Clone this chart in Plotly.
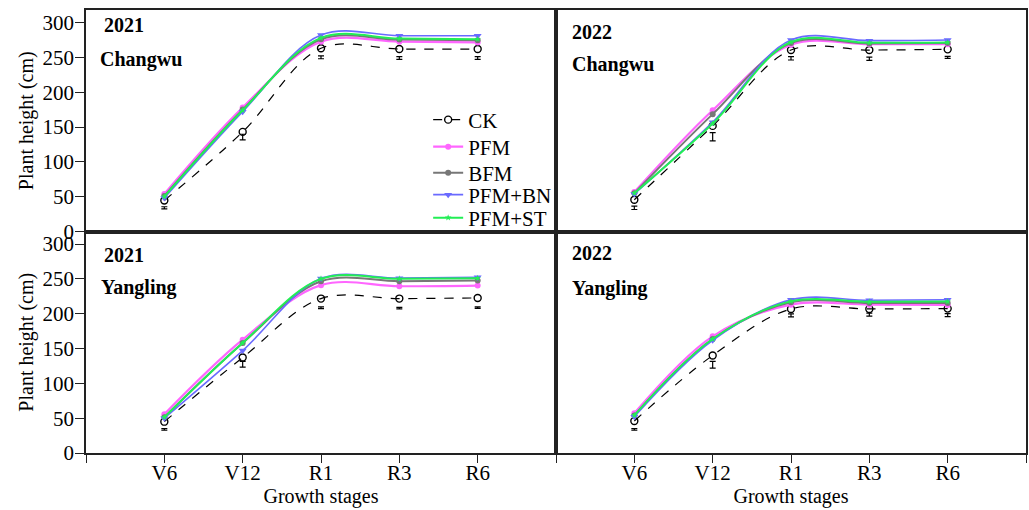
import plotly.graph_objects as go
from plotly.subplots import make_subplots

# Growth stages on the shared x axis
stages = ["V6", "V12", "R1", "R3", "R6"]
treatments = ["CK", "PFM", "BFM", "PFM+BN", "PFM+ST"]

# Plant height (cm), Changwu 2021
cw21_ck = [44.6, 143.0, 263.0, 262.0, 262.0]
cw21_pfm = [54.0, 178.0, 272.5, 272.5, 271.5]
cw21_bfm = [51.0, 175.0, 276.0, 275.5, 274.5]
cw21_pfm_bn = [48.0, 172.0, 282.0, 281.0, 281.0]
cw21_pfm_st = [50.0, 174.0, 278.0, 277.0, 276.0]
cw21_bar_mid = [34.0, 135.6, 250.0, 249.0, 249.0]
cw21_bar_half = [1.5, 4.0, 2.0, 2.0, 2.0]

# Plant height (cm), Changwu 2022
cw22_ck = [45.6, 151.6, 260.5, 260.5, 261.5]
cw22_pfm = [56.6, 174.0, 268.0, 269.0, 269.0]
cw22_bfm = [55.0, 168.5, 270.6, 270.0, 270.6]
cw22_pfm_bn = [54.0, 157.0, 275.0, 274.0, 275.0]
cw22_pfm_st = [55.0, 155.0, 272.0, 271.0, 271.5]
cw22_bar_mid = [34.0, 136.0, 248.6, 248.0, 250.0]
cw22_bar_half = [2.4, 6.0, 2.4, 2.4, 1.5]

# Plant height (cm), Yangling 2021
yl21_ck = [45.0, 137.0, 221.7, 221.7, 222.6]
yl21_pfm = [55.7, 162.7, 241.0, 239.4, 240.4]
yl21_bfm = [51.4, 158.0, 246.6, 246.6, 247.6]
yl21_pfm_bn = [50.0, 147.0, 250.5, 251.0, 252.4]
yl21_pfm_st = [51.4, 158.0, 250.0, 250.0, 251.0]
yl21_bar_mid = [34.0, 127.4, 208.5, 208.0, 208.7]
yl21_bar_half = [1.2, 4.0, 1.2, 1.2, 1.2]

# Plant height (cm), Yangling 2022
yl22_ck = [46.0, 140.0, 206.8, 206.8, 207.3]
yl22_pfm = [57.0, 167.5, 213.0, 213.0, 212.6]
yl22_bfm = [54.0, 163.6, 216.4, 215.5, 215.5]
yl22_pfm_bn = [52.0, 161.7, 220.0, 219.3, 220.0]
yl22_pfm_st = [54.0, 163.6, 217.8, 217.0, 217.4]
yl22_bar_mid = [34.0, 126.7, 197.5, 198.6, 198.0]
yl22_bar_half = [1.2, 4.8, 2.2, 2.2, 2.2]

y_ticks = [0, 50, 100, 150, 200, 250, 300]

panels = [
    dict(row=1, col=1, year="2021", site="Changwu",
         series=[cw21_ck, cw21_pfm, cw21_bfm, cw21_pfm_bn, cw21_pfm_st],
         bar_mid=cw21_bar_mid, bar_half=cw21_bar_half,
         ypos=(0.932, 0.775), xpos=(0.034, 0.026)),
    dict(row=1, col=2, year="2022", site="Changwu",
         series=[cw22_ck, cw22_pfm, cw22_bfm, cw22_pfm_bn, cw22_pfm_st],
         bar_mid=cw22_bar_mid, bar_half=cw22_bar_half,
         ypos=(0.90, 0.752), xpos=(0.030, 0.030)),
    dict(row=2, col=1, year="2021", site="Yangling",
         series=[yl21_ck, yl21_pfm, yl21_bfm, yl21_pfm_bn, yl21_pfm_st],
         bar_mid=yl21_bar_mid, bar_half=yl21_bar_half,
         ypos=(0.896, 0.747), xpos=(0.034, 0.028)),
    dict(row=2, col=2, year="2022", site="Yangling",
         series=[yl22_ck, yl22_pfm, yl22_bfm, yl22_pfm_bn, yl22_pfm_st],
         bar_mid=yl22_bar_mid, bar_half=yl22_bar_half,
         ypos=(0.905, 0.742), xpos=(0.030, 0.030)),
]

styles = {
    "CK": dict(line=dict(color="black", width=1.2, dash="dash"),
               marker=dict(symbol="circle-open", size=7, color="black",
                           line=dict(width=1.4, color="black"))),
    "PFM": dict(line=dict(color="#ff66ff", width=2.2),
                marker=dict(symbol="circle", size=6, color="#ff66ff")),
    "BFM": dict(line=dict(color="#777777", width=2.0),
                marker=dict(symbol="circle", size=6, color="#777777")),
    "PFM+BN": dict(line=dict(color="#6a6aff", width=1.6),
                   marker=dict(symbol="triangle-down", size=7, color="#6a6aff")),
    "PFM+ST": dict(line=dict(color="#22ee55", width=2.0),
                   marker=dict(symbol="star", size=5, color="#22ee55")),
}

# one legend box per treatment so the entries sit at their own heights
legend_ids = ["legend", "legend2", "legend3", "legend4", "legend5"]
legend_y = [0.7517, 0.6907, 0.6321, 0.5824, 0.5305]

FONT = "Liberation Serif"
x_pos = list(range(len(stages)))

fig = make_subplots(rows=2, cols=2, horizontal_spacing=0, vertical_spacing=0)

for p in panels:
    first = p["row"] == 1 and p["col"] == 1
    # CK standard-error bars
    fig.add_trace(go.Scatter(
        x=x_pos, y=p["bar_mid"], mode="markers",
        marker=dict(size=1, color="rgba(0,0,0,0)"),
        error_y=dict(type="data", array=p["bar_half"], symmetric=True,
                     color="black", thickness=1.2, width=3),
        showlegend=False, hoverinfo="skip"), row=p["row"], col=p["col"])
    for name, vals, lid in zip(treatments, p["series"], legend_ids):
        st = styles[name]
        fig.add_trace(go.Scatter(
            x=x_pos, y=vals, name=name, mode="lines+markers",
            line=dict(shape="spline", smoothing=1.0, **st["line"]),
            marker=st["marker"], showlegend=first, legend=lid),
            row=p["row"], col=p["col"])
    idx = (p["row"] - 1) * 2 + p["col"]
    xr = "x domain" if idx == 1 else f"x{idx} domain"
    yr = "y domain" if idx == 1 else f"y{idx} domain"
    for txt, yy, xx in [(p["year"], p["ypos"][0], p["xpos"][0]),
                        (p["site"], p["ypos"][1], p["xpos"][1])]:
        fig.add_annotation(text=f"<b>{txt}</b>", x=xx, y=yy, xref=xr, yref=yr,
                           xanchor="left", yanchor="middle", showarrow=False,
                           font=dict(family=FONT, size=20, color="black"))

axis_line = dict(showline=True, linecolor="#222222", linewidth=1.6, mirror=True,
                 showgrid=False, zeroline=False)

for r in (1, 2):
    for c in (1, 2):
        fig.update_xaxes(
            range=[-1, 5], tickvals=[-1] + x_pos + [5],
            ticktext=[""] + stages + [""],
            ticks="outside" if r == 2 else "", ticklen=8, tickwidth=1.3,
            tickcolor="#222222", showticklabels=(r == 2),
            ticklabelstandoff=-8,
            tickfont=dict(family=FONT, size=21, color="black"),
            title=dict(text="Growth stages" if r == 2 else "",
                       font=dict(family=FONT, size=20, color="black"),
                       standoff=2),
            row=r, col=c, **axis_line)
        fig.update_yaxes(
            range=[0, 318], tickvals=y_ticks,
            ticks="outside" if c == 1 else "", ticklen=9, tickwidth=1.3,
            tickcolor="#222222", showticklabels=(c == 1),
            ticklabelstandoff=-3,
            tickfont=dict(family=FONT, size=21, color="black"),
            title=dict(text="Plant height (cm)" if c == 1 else "",
                       font=dict(family=FONT, size=20, color="black"),
                       standoff=4),
            row=r, col=c, **axis_line)

legend_common = dict(x=0.364, xanchor="left", yanchor="middle",
                     bgcolor="rgba(0,0,0,0)", borderwidth=0,
                     font=dict(family=FONT, size=21, color="black"),
                     itemwidth=30)

fig.update_layout(
    width=1029, height=510,
    margin=dict(l=86, r=1, t=10, b=57),
    paper_bgcolor="white", plot_bgcolor="white",
    font=dict(family=FONT, size=20, color="black"),
    **{lid: dict(y=ly, **legend_common) for lid, ly in zip(legend_ids, legend_y)},
)

fig.write_html("out.html")
